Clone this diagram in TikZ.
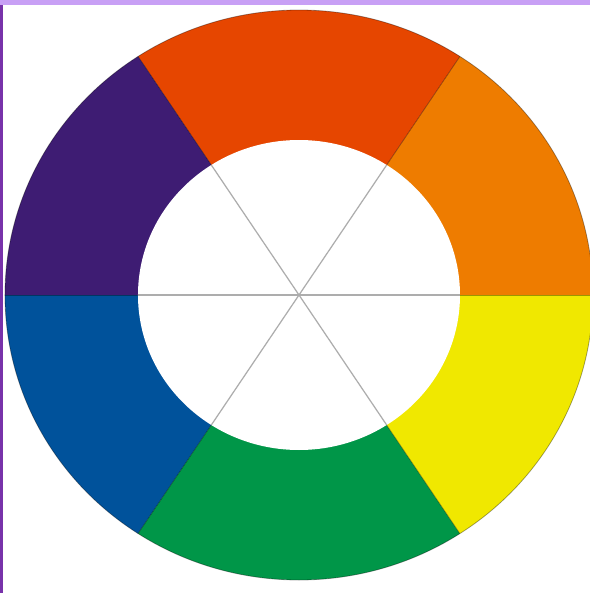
\documentclass[tikz,border=0pt]{standalone}
\usetikzlibrary{positioning}

\definecolor{wheelred}{RGB}{230,70,0}
\definecolor{wheelorange}{RGB}{238,124,0}
\definecolor{wheelyellow}{RGB}{240,232,0}
\definecolor{wheelgreen}{RGB}{0,150,72}
\definecolor{wheelblue}{RGB}{0,82,155}
\definecolor{wheelpurple}{RGB}{62,28,115}
\definecolor{framelilac}{RGB}{200,160,245}
\definecolor{framepurple}{RGB}{120,50,170}

\begin{document}
\begin{tikzpicture}[
        x = 0.02cm,
        y = 0.02cm,
        outerring/.style = {x radius = 294, y radius = 285},
        innerring/.style = {x radius = 161, y radius = 155},
        edge/.style      = {draw = black, draw opacity = 0.35, line width = 0.45pt},
        spoke/.style     = {draw = black!32, line width = 0.7pt}
    ]

    \useasboundingbox (-299,-298) rectangle (291,295);
    \fill[white] (-299,-298) rectangle (291,295);

    % bits of the frame round the photo
    \fill[framelilac]  (-299,290) rectangle (291,295);
    \fill[framepurple] (-299,-298) rectangle (-296,290);

    % the six colour sectors
    \foreach \from/\to/\col in {0/56/wheelorange, 56/124/wheelred,
        124/180/wheelpurple, 180/236/wheelblue,
        236/304/wheelgreen, 304/360/wheelyellow} {
        \begin{scope}
            \clip (0,0) -- (\from:500) -- ({(\from+\to)/2}:500) -- (\to:500) -- cycle;
            \fill[\col] (0,0) ellipse [outerring];
        \end{scope}
    }

    % borders between sectors
    \begin{scope}
        \clip (0,0) ellipse [outerring];
        \foreach \a in {0,56,124,180,236,304}
            \draw[edge] (0,0) -- (\a:500);
    \end{scope}
    \draw[edge] (0,0) ellipse [outerring];

    % hole in the middle
    \fill[white] (0,0) ellipse [innerring];
    \begin{scope}
        \clip (0,0) ellipse [innerring];
        \foreach \a in {0,56,124,180,236,304}
            \draw[spoke] (0,0) -- (\a:300);
    \end{scope}
\end{tikzpicture}
\end{document}
